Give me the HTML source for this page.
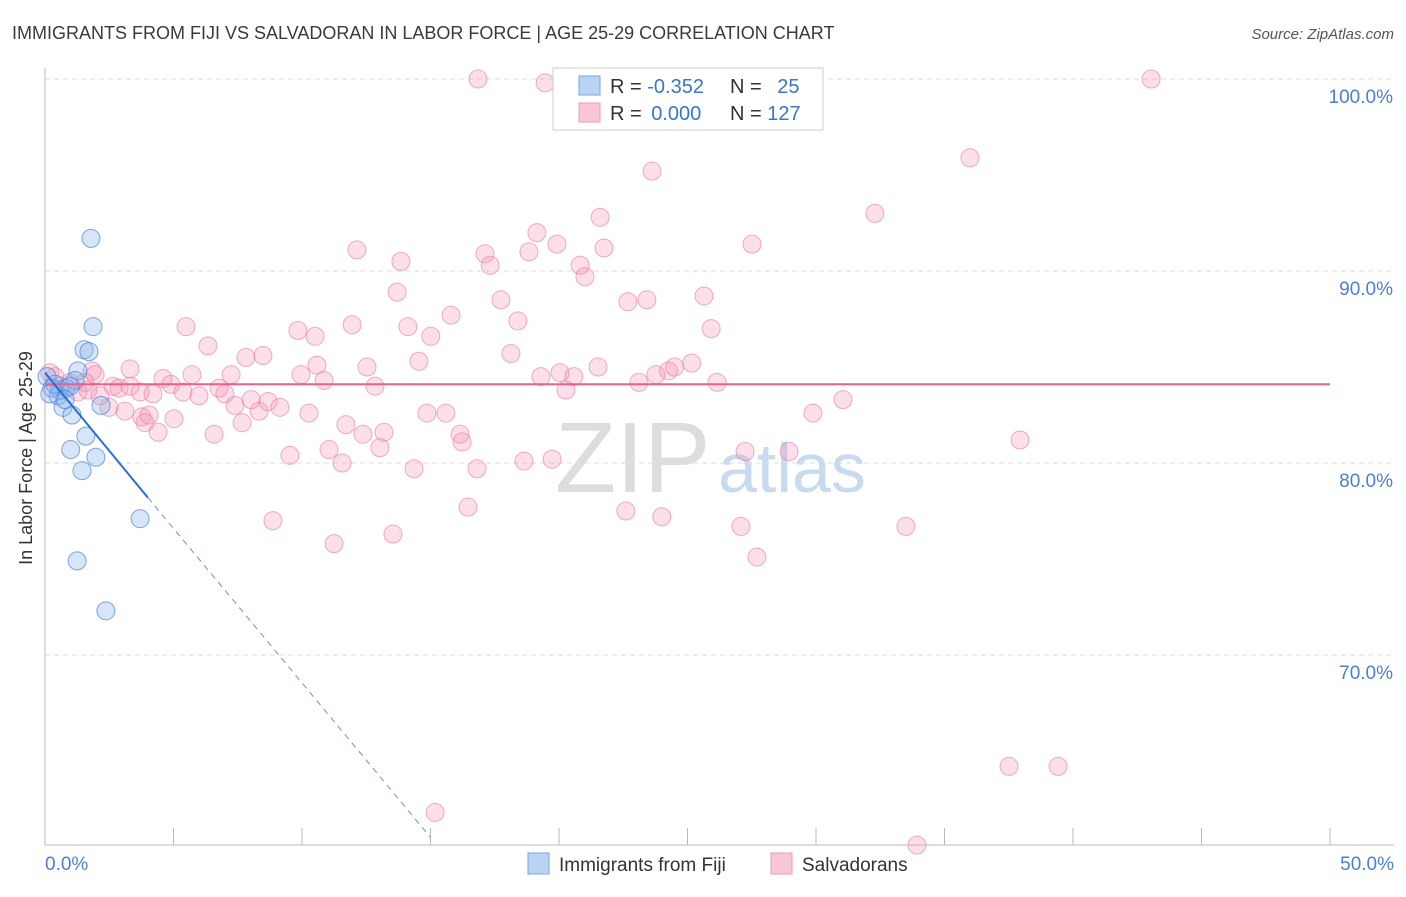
<!DOCTYPE html>
<html><head><meta charset="utf-8"><style>
body{margin:0;background:#fff;font-family:"Liberation Sans",sans-serif}
svg text{font-family:"Liberation Sans",sans-serif}
</style></head><body>
<svg id="chart" width="1406" height="892">
<text x="12" y="39" font-size="18" fill="#3a3a3a">IMMIGRANTS FROM FIJI VS SALVADORAN IN LABOR FORCE | AGE 25-29 CORRELATION CHART</text>
<text x="1394" y="39" font-size="15" fill="#555" font-style="italic" text-anchor="end">Source: ZipAtlas.com</text>
<text x="32" y="458" font-size="18" fill="#333" text-anchor="middle" transform="rotate(-90 32 458)">In Labor Force | Age 25-29</text>
<text x="555" y="492" font-size="100" fill="#ddd" font-family="Liberation Serif">ZIP</text>
<text x="718" y="492" font-size="70" fill="#c8daf0">atlas</text>
<g id="grid"></g><g id="marks"></g>
<g>
<rect x="553" y="68" width="270" height="62" fill="#fff" stroke="#ccc"/>
<rect x="579" y="76" width="21" height="19" fill="#b9d3f3" stroke="#7aa5e0"/>
<rect x="579" y="103" width="21" height="19" fill="#f9c6d6" stroke="#ee9ab6"/>
<text x="610" y="93" font-size="20" fill="#333">R = <tspan fill="#3a74d0">-0.352</tspan></text>
<text x="730" y="93" font-size="20" fill="#333">N = <tspan fill="#3a74d0" dx="10">25</tspan></text>
<text x="610" y="120" font-size="20" fill="#333">R = <tspan fill="#3a74d0" dx="4">0.000</tspan></text>
<text x="730" y="120" font-size="20" fill="#333">N = <tspan fill="#3a74d0">127</tspan></text>
</g>
<g>
<rect x="528" y="853" width="21" height="21" fill="#b9d3f3" stroke="#7aa5e0"/>
<text x="559" y="871" font-size="19" fill="#333">Immigrants from Fiji</text>
<rect x="771" y="853" width="21" height="21" fill="#f9c6d6" stroke="#ee9ab6"/>
<text x="802" y="871" font-size="19" fill="#333">Salvadorans</text>
</g>
</svg>
<script>
const yTicks=[70,80,90,100];
const yTickLabels=["70.0%","80.0%","90.0%","100.0%"];
const xTickLabels=["0.0%","50.0%"];
const fijiX=[1.79,1.87,1.52,1.71,1.28,1.17,0.08,0.27,0.58,0.82,0.51,0.7,1.05,2.18,1.59,1.0,1.98,1.44,3.7,1.25,2.37,0.39,0.19,0.97,0.78];
const fijiY=[91.7,87.1,85.9,85.8,84.8,84.3,84.5,83.9,83.8,83.9,83.5,82.9,82.5,83.0,81.4,80.7,80.3,79.6,77.1,74.9,72.3,84.1,83.6,84.0,83.3];
const salvX=[16.85,19.46,24.79,43.04,35.99,23.62,32.29,21.6,19.14,12.14,17.12,18.83,19.92,21.75,27.51,13.85,17.32,20.82,21.01,13.7,17.74,22.68,23.42,25.64,15.8,18.4,5.49,9.84,10.51,11.95,14.12,15.01,25.92,6.34,7.82,8.48,10.58,12.53,14.55,18.13,21.52,24.26,24.5,25.16,3.31,1.83,4.59,5.72,7.24,9.96,10.86,12.84,19.3,20.04,20.58,23.11,23.77,26.15,20.27,2.65,1.28,1.67,2.88,4.2,4.9,5.37,5.99,6.77,7.0,7.39,8.33,8.02,8.68,9.14,10.27,3.11,2.49,3.77,4.05,3.89,5.02,4.4,6.58,7.67,11.71,13.19,12.37,13.03,14.86,15.6,16.15,16.23,11.05,11.56,9.53,14.36,16.81,18.64,19.73,27.24,28.95,29.88,31.05,37.94,8.87,11.25,13.54,16.46,22.6,24.0,27.08,27.7,33.5,37.51,39.42,15.18,33.93,1.95,0.39,0.19,0.97,1.56,0.58,2.14,3.31,3.7];
const salvY=[100,99.8,99.9,100,95.9,95.2,93.0,92.8,92.0,91.1,90.9,91.0,91.4,91.2,91.4,90.5,90.3,90.3,89.7,88.9,88.5,88.4,88.5,88.7,87.7,87.4,87.1,86.9,86.6,87.2,87.1,86.6,87.0,86.1,85.5,85.6,85.1,85.0,85.3,85.7,85.0,84.8,85.0,85.2,84.9,84.8,84.4,84.6,84.6,84.6,84.3,84.0,84.5,84.7,84.5,84.2,84.6,84.2,83.8,84.0,83.7,83.8,83.9,83.6,84.1,83.7,83.5,83.9,83.6,83.0,82.7,83.3,83.2,82.9,82.6,82.7,82.9,82.4,82.5,82.1,82.3,81.6,81.5,82.1,82.0,81.6,81.5,80.8,82.6,82.6,81.5,81.1,80.7,80.0,80.4,79.7,79.7,80.1,80.2,80.6,80.6,82.6,83.3,81.2,77.0,75.8,76.3,77.7,77.5,77.2,76.7,75.1,76.7,64.2,64.2,61.8,60.1,84.6,84.5,84.7,84.2,84.2,84.0,83.5,84.0,83.7];
const fijiLine={x1:0,y1:84.7,x2:4.0,y2:78.2,x3:15.0,y3:60.5};
const salvLineY=84.1;
const NS="http://www.w3.org/2000/svg";
const L=45,R=1330,T=79;
const xs=v=>L+(v/50)*(R-L);
const ys=v=>T+(100-v)*19.2;
function mk(tag,attrs,parent){const e=document.createElementNS(NS,tag);for(const k in attrs)e.setAttribute(k,attrs[k]);parent.appendChild(e);return e;}
const grid=document.getElementById('grid'),marks=document.getElementById('marks');
yTicks.forEach((t,i)=>{
 const g=mk('line',{x1:L,x2:1394,y1:ys(t),y2:ys(t),stroke:'#ddd','stroke-dasharray':'5,4'},grid);
 
 
 const tx=mk('text',{x:1393,y:ys(t)+24,'font-size':19,fill:'#4a7fd4','text-anchor':'end'},grid);
 tx.textContent=yTickLabels[i];
 
 
});
const ax=mk('line',{x1:L,x2:L,y1:68,y2:845,stroke:'#bbb'},grid);


const bx=mk('line',{x1:L,x2:1394,y1:845,y2:845,stroke:'#bbb'},grid);


for(let i=0;i<=10;i++){const t=mk('line',{x1:xs(i*5),x2:xs(i*5),y1:828,y2:845,stroke:'#bbb'},grid);
 
 }
[[0,'start'],[50,'end']].forEach((p,i)=>{const t=mk('text',{x:i?1394:45,y:870,'font-size':19,fill:'#4a7fd4','text-anchor':p[1]},grid);t.textContent=xTickLabels[i];
 
 });
salvX.forEach((x,i)=>{const c=mk('circle',{cx:xs(x),cy:ys(salvY[i]),r:9,fill:'rgba(244,150,182,0.3)',stroke:'rgba(232,120,160,0.6)','stroke-width':1},marks);
 
 });
fijiX.forEach((x,i)=>{const c=mk('circle',{cx:xs(x),cy:ys(fijiY[i]),r:9,fill:'rgba(140,180,235,0.35)',stroke:'rgba(70,130,220,0.7)','stroke-width':1},marks);
 
 });
const sl=mk('line',{x1:xs(0),x2:xs(50),y1:ys(salvLineY),y2:ys(salvLineY),stroke:'#e9608a','stroke-width':2},marks);


const fl=mk('line',{x1:xs(fijiLine.x1),y1:ys(fijiLine.y1),x2:xs(fijiLine.x2),y2:ys(fijiLine.y2),stroke:'#2a6fd6','stroke-width':2},marks);


const fd=mk('line',{x1:xs(fijiLine.x2),y1:ys(fijiLine.y2),x2:xs(fijiLine.x3),y2:ys(fijiLine.y3),stroke:'#6a90d0','stroke-width':1,'stroke-dasharray':'6,5'},marks);


</script>
</body></html>
